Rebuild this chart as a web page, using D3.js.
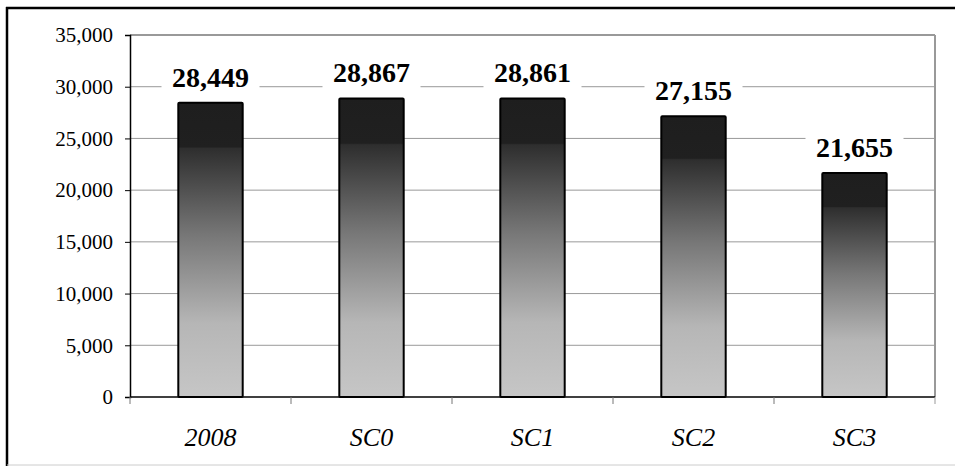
<!DOCTYPE html>
<html>
<head>
<meta charset="utf-8">
<script src="https://cdn.jsdelivr.net/npm/d3@7"></script>
<style>
  body { margin: 0; background: #fff; }
  svg { display: block; }
</style>
</head>
<body>
<figure id="bar" style="margin:0"></figure>
<script>
const categories = ["2008", "SC0", "SC1", "SC2", "SC3"];
const values = [28449, 28867, 28861, 27155, 21655];
const yTicks = [0, 5000, 10000, 15000, 20000, 25000, 30000, 35000];

const W = 955, H = 466;
const margin = { left: 130, right: 20, top: 35, bottom: 69 };
const width = W - margin.left - margin.right;
const height = H - margin.top - margin.bottom;

const svg = d3.select("figure#bar")
  .append("svg")
  .attr("width", W)
  .attr("height", H);

// outer frame
svg.append("line").attr("x1", 7).attr("x2", 7).attr("y1", 7).attr("y2", 466)
  .attr("stroke", "#000").attr("stroke-width", 2.5);
svg.append("line").attr("x1", 6).attr("x2", 955).attr("y1", 8).attr("y2", 8)
  .attr("stroke", "#000").attr("stroke-width", 2.5);
svg.append("line").attr("x1", 7).attr("x2", 955).attr("y1", 465).attr("y2", 465)
  .attr("stroke", "#ccc").attr("stroke-width", 1);

// bar gradient: dark cap, then dark-to-light fade
const defs = svg.append("defs");
const grad = defs.append("linearGradient")
  .attr("id", "barGrad")
  .attr("x1", 0).attr("y1", 0).attr("x2", 0).attr("y2", 1);
grad.append("stop").attr("offset", "0%").attr("stop-color", "#1e1e1e");
grad.append("stop").attr("offset", "15%").attr("stop-color", "#202020");
grad.append("stop").attr("offset", "15.5%").attr("stop-color", "#2e2e2e");
grad.append("stop").attr("offset", "45%").attr("stop-color", "#777");
grad.append("stop").attr("offset", "75%").attr("stop-color", "#b6b6b6");
grad.append("stop").attr("offset", "100%").attr("stop-color", "#c6c6c6");

const g = svg.append("g")
  .attr("transform", "translate(" + margin.left + "," + margin.top + ")");

const x = d3.scaleBand()
  .range([0, width])
  .domain(categories)
  .paddingInner(0.6)
  .paddingOuter(0.3);

const y = d3.scaleLinear()
  .domain([0, 35000])
  .range([height, 0]);

// gridlines
g.append("g")
  .selectAll("line")
  .data(yTicks.filter(d => d > 0 && d < 35000))
  .enter()
  .append("line")
  .attr("x1", 0).attr("x2", width)
  .attr("y1", d => y(d)).attr("y2", d => y(d))
  .attr("stroke", "#999").attr("stroke-width", 1);

// plot border top and right
g.append("line").attr("x1", 0).attr("x2", width).attr("y1", 0).attr("y2", 0)
  .attr("stroke", "#999").attr("stroke-width", 2);
g.append("line").attr("x1", width).attr("x2", width).attr("y1", 0).attr("y2", height)
  .attr("stroke", "#999").attr("stroke-width", 2);

// Y axis
const yAxis = g.append("g")
  .call(d3.axisLeft(y).tickValues(yTicks).tickSize(5).tickPadding(12)
    .tickFormat(d3.format(",")));
yAxis.select(".domain").attr("stroke", "#000").attr("stroke-width", 1.5);
yAxis.selectAll(".tick line").attr("stroke", "#000");
yAxis.selectAll("text")
  .style("font-family", "'Liberation Serif', 'Times New Roman', serif")
  .style("font-size", "21px")
  .attr("fill", "#000");

// X axis: ticks at category boundaries
const xg = g.append("g").attr("transform", "translate(0," + height + ")");
xg.append("line").attr("x1", 0).attr("x2", width).attr("y1", 0).attr("y2", 0)
  .attr("stroke", "#000").attr("stroke-width", 1.5);
const bounds = d3.range(categories.length + 1).map(i => i * width / categories.length);
xg.selectAll(".bt")
  .data(bounds)
  .enter()
  .append("line")
  .attr("x1", d => d).attr("x2", d => d)
  .attr("y1", 0).attr("y2", 7)
  .attr("stroke", (d, i) => i === categories.length ? "#999" : "#777")
  .attr("stroke-width", 1);
xg.selectAll(".xl")
  .data(categories)
  .enter()
  .append("text")
  .attr("x", d => x(d) + x.bandwidth() / 2)
  .attr("y", 49)
  .attr("text-anchor", "middle")
  .style("font-family", "'Liberation Serif', 'Times New Roman', serif")
  .style("font-style", "italic")
  .style("font-size", "26px")
  .text(d => d);

const data = categories.map((c, i) => ({ cat: c, val: values[i] }));

// bars
g.selectAll(".bar")
  .data(data)
  .enter()
  .append("rect")
  .attr("x", d => x(d.cat))
  .attr("y", d => y(d.val))
  .attr("width", x.bandwidth())
  .attr("height", d => height - y(d.val))
  .attr("fill", "url(#barGrad)")
  .attr("stroke", "#000")
  .attr("stroke-width", 2)
  .attr("rx", 1);

// value labels with white backing
const labels = g.selectAll(".lbl")
  .data(data)
  .enter()
  .append("g")
  .attr("transform", d => "translate(" + (x(d.cat) + x.bandwidth() / 2) + "," + (y(d.val) - 16) + ")");
labels.append("rect")
  .attr("x", -49).attr("y", -26)
  .attr("width", 98).attr("height", 32)
  .attr("fill", "#fff");
labels.append("text")
  .attr("text-anchor", "middle")
  .style("font-family", "'Liberation Serif', 'Times New Roman', serif")
  .style("font-weight", "bold")
  .style("font-size", "28px")
  .text(d => d3.format(",")(d.val));
</script>
</body>
</html>
